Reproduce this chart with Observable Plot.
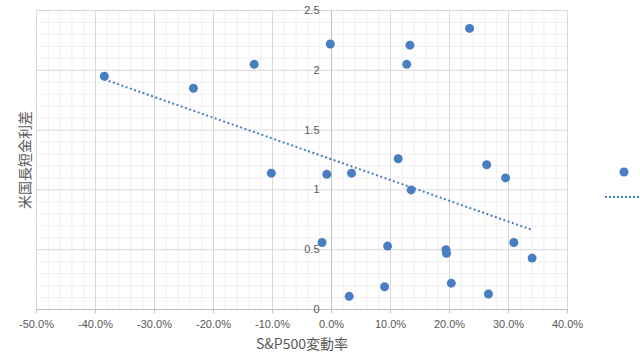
<!DOCTYPE html>
<html>
<head>
<meta charset="utf-8">
<script src="https://cdn.jsdelivr.net/npm/d3@7"></script>
<script src="https://cdn.jsdelivr.net/npm/@observablehq/plot@0.6"></script>
<style>
  html, body { margin: 0; padding: 0; background: #fff; }
  #wrap { position: relative; width: 640px; height: 360px; overflow: hidden; }
  #legend { position: absolute; left: 600px; top: 160px; }
</style>
</head>
<body>
<div id="wrap"></div>
<script>
// S&P500 annual change (%) and US long-short yield spread
const spxChange = [-38.5, -23.4, -13.1, -10.2, -0.2, 13.3, 12.75, 23.4, 11.3, 26.3, 29.5, -0.8,
                   3.4, 13.5, -1.6, 9.5, 19.4, 19.5, 30.9, 34.0, 3.0, 9.0, 20.3, 26.6];
const spread    = [1.95, 1.85, 2.05, 1.14, 2.22, 2.21, 2.05, 2.35, 1.26, 1.21, 1.10, 1.13,
                   1.14, 1.00, 0.56, 0.53, 0.50, 0.47, 0.56, 0.43, 0.11, 0.19, 0.22, 0.13];
const xTicks = [-0.5, -0.4, -0.3, -0.2, -0.1, 0, 0.1, 0.2, 0.3, 0.4];
const yTicks = [0, 0.5, 1, 1.5, 2, 2.5];
const yTickLabels = ["0", "0.5", "1", "1.5", "2", "2.5"];
const xTitle = "S&P500変動率";
const yTitle = "米国長短金利差";

const data = spxChange.map((v, i) => ({x: v / 100, y: spread[i]}));
const blue = "#4a7ec2";

// least-squares trend line over the data's x extent
const mx = d3.mean(data, d => d.x), my = d3.mean(data, d => d.y);
const slope = d3.sum(data, d => (d.x - mx) * (d.y - my)) / d3.sum(data, d => (d.x - mx) ** 2);
const [x0, x1] = d3.extent(data, d => d.x);
const trend = [x0, x1].map(x => ({x, y: my + slope * (x - mx)}));

const xMinor = d3.range(0, 46).map(i => -0.5 + i * 0.02).filter(v => Math.abs(Math.round(v * 10) - v * 10) > 1e-6);
const yMinor = d3.range(0, 26).map(i => i * 0.1).filter(v => Math.abs(Math.round(v * 2) - v * 2) > 1e-6);

const fmtPct = d => (d * 100).toFixed(1) + "%";

const chart = Plot.plot({
  width: 640,
  height: 360,
  marginLeft: 36,
  marginRight: 73,
  marginTop: 10,
  marginBottom: 51,
  style: {fontFamily: "'Liberation Sans', 'Noto Sans CJK JP', sans-serif", background: "#fff"},
  x: {domain: [-0.5, 0.4], axis: null},
  y: {domain: [0, 2.5], axis: null},
  marks: [
    Plot.ruleX(xMinor, {stroke: "#f0f0f0", strokeWidth: 1}),
    Plot.ruleY(yMinor, {stroke: "#f0f0f0", strokeWidth: 1}),
    Plot.ruleX(xTicks, {stroke: "#d9d9d9", strokeWidth: 1}),
    Plot.ruleY(yTicks, {stroke: "#d9d9d9", strokeWidth: 1}),
    Plot.ruleX([0], {stroke: "#bfbfbf", strokeWidth: 1}),
    Plot.ruleY([0], {stroke: "#bfbfbf", strokeWidth: 1}),
    Plot.axisX(xTicks, {tickSize: 4, tickPadding: 7, tickFormat: fmtPct, fontSize: 11,
      stroke: "#bfbfbf", fill: "#595959", label: null}),
    Plot.text(yTicks, {x: d => 0, y: d => d, text: (d, i) => yTickLabels[i], textAnchor: "end",
      dx: -12, fontSize: 11, fill: "#595959"}),
    Plot.line(trend, {x: "x", y: "y", stroke: blue, strokeWidth: 2, strokeDasharray: "2 2.5",
      className: "trendline"}),
    Plot.dot(data, {x: "x", y: "y", r: 4.5, fill: blue, stroke: "none"}),
    Plot.text([xTitle], {frameAnchor: "bottom", dy: 39, fontSize: 14, fill: "#595959",
      fontFamily: "'Noto Sans CJK JP', sans-serif"}),
    Plot.text([yTitle], {frameAnchor: "left", dx: -11, rotate: -90, textAnchor: "middle",
      fontSize: 14, fill: "#595959", fontFamily: "'Noto Sans CJK JP', sans-serif"})
  ]
});

// ensure the dotted style is on the trend path itself
d3.select(chart).selectAll("g[aria-label='line'] path")
  .attr("stroke-dasharray", "2 2.5")
  .attr("stroke-linecap", "butt")
  .attr("stroke-width", 2);

const wrap = document.getElementById("wrap");
wrap.appendChild(chart);

// legend (entries without text, as in the reference)
const ns = "http://www.w3.org/2000/svg";
const leg = document.createElementNS(ns, "svg");
leg.setAttribute("id", "legend");
leg.setAttribute("width", "40");
leg.setAttribute("height", "45");
const c = document.createElementNS(ns, "circle");
c.setAttribute("cx", "24"); c.setAttribute("cy", "12"); c.setAttribute("r", "4.5");
c.setAttribute("fill", blue);
leg.appendChild(c);
const l = document.createElementNS(ns, "line");
l.setAttribute("x1", "5"); l.setAttribute("x2", "40"); l.setAttribute("y1", "37"); l.setAttribute("y2", "37");
l.setAttribute("stroke", blue); l.setAttribute("stroke-width", "2"); l.setAttribute("stroke-dasharray", "2 2");
leg.appendChild(l);
wrap.appendChild(leg);
</script>
</body>
</html>
